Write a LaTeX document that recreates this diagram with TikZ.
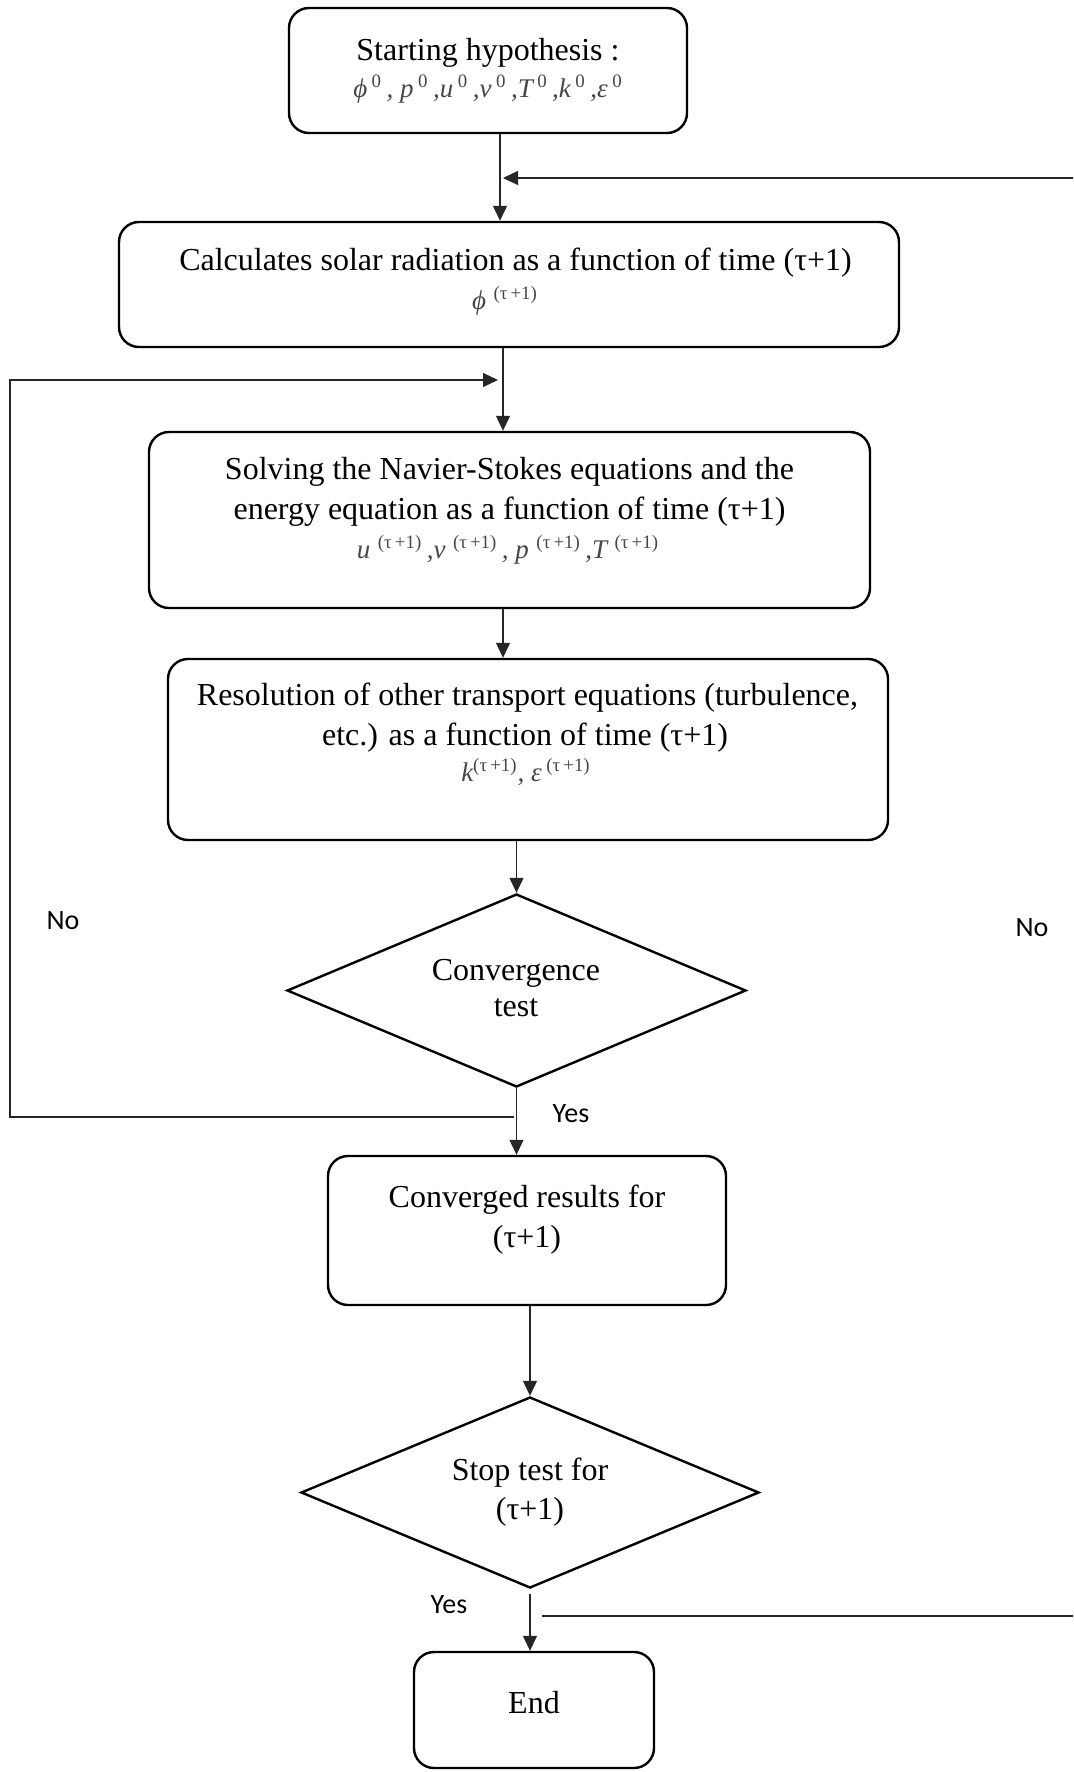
\documentclass[tikz,border=0pt]{standalone}
\usepackage{fontspec}
\setmainfont{Liberation Serif}
\newfontfamily\lblfont{Carlito}
\usetikzlibrary{arrows.meta,shapes.geometric}
\newcommand{\mysup}[1]{\textsuperscript{\upshape #1}}
\begin{document}
\begin{tikzpicture}[x=0.5pt,y=-0.5pt,
  box/.style={draw,line width=1.2pt,rounded corners=10pt,inner sep=0pt},
  dec/.style={draw,diamond,line width=1.2pt,inner sep=0pt},
  txt/.style={inner sep=0pt,font=\fontsize{16}{19}\selectfont},
  mth/.style={inner sep=0pt,text=black!72,font=\fontsize{13.5}{16}\selectfont\itshape},
  lbl/.style={inner sep=0pt,font=\lblfont\fontsize{14}{17}\selectfont},
  conn/.style={line width=0.6pt,draw=black!85},
  arr/.style={conn,-{Triangle[length=7.5pt,width=7pt]}}]
\useasboundingbox (0,0) rectangle (1073,1772);
\clip (0,0) rectangle (1073,1772);

% boxes
\node[box,minimum width=199pt,minimum height=62.5pt] (start) at (488,70.5) {};
\node[box,minimum width=390pt,minimum height=62.5pt] (calc) at (509,284.5) {};
\node[box,minimum width=360.5pt,minimum height=88pt] (ns) at (509.5,520) {};
\node[box,minimum width=360pt,minimum height=90.5pt] (res) at (528,749.5) {};
\node[dec,minimum width=229.5pt,minimum height=96.5pt] (conv) at (516.5,990.5) {};
\node[box,minimum width=199pt,minimum height=74.5pt] (converged) at (527,1230.5) {};
\node[dec,minimum width=229pt,minimum height=95.5pt] (stop) at (530,1492.5) {};
\node[box,minimum width=120pt,minimum height=58pt] (end) at (534,1710) {};

% texts
\node[txt] (t1a) at (488,53) {Starting hypothesis :};
\node[mth] (t1b) at (488,89) {ϕ\,\mysup{0}\,, p\,\mysup{0}\,,u\,\mysup{0}\,,v\,\mysup{0}\,,T\,\mysup{0}\,,k\,\mysup{0}\,,ε\,\mysup{0}};
\node[txt] (t2a) at (515.5,263) {Calculates solar radiation as a function of time (τ+1)};
\node[mth] (t2b) at (505,301) {ϕ\;\mysup{(τ\,+1)}};
\node[txt] (t3a) at (509.5,472) {Solving the Navier-Stokes equations and the};
\node[txt] (t3b) at (509.5,512) {energy equation as a function of time (τ+1)};
\node[mth] (t3c) at (508,550) {u\;\mysup{(τ\,+1)}\,,v\;\mysup{(τ\,+1)}\,, p\;\mysup{(τ\,+1)}\,,T\;\mysup{(τ\,+1)}};
\node[txt] (t4a) at (527.5,698) {Resolution of other transport equations (turbulence,};
\node[txt] (t4b) at (525,738) {etc.) as a function of time (τ+1)};
\node[mth] (t4c) at (526,772) {k\mysup{(τ\,+1)}, ε\,\mysup{(τ\,+1)}};
\node[txt] (t5a) at (516,973) {Convergence};
\node[txt] (t5b) at (516,1008) {test};
\node[txt] (t6a) at (527,1200) {Converged results for};
\node[txt] (t6b) at (527,1240) {(τ+1)};
\node[txt] (t7a) at (530,1473) {Stop test for};
\node[txt] (t7b) at (530,1512) {(τ+1)};
\node[txt] (t8) at (534,1703) {End};

% labels
\node[lbl] (no1) at (63,921) {No};
\node[lbl] (no2) at (1032,928) {No};
\node[lbl] (yes1) at (571,1114) {Yes};
\node[lbl] (yes2) at (449,1605) {Yes};

% columns / loop points
\coordinate (c1) at (500,0);
\coordinate (c2) at (503,0);
\coordinate (rs) at (542,1616);
\coordinate (rb) at (1090,1616);
\coordinate (rt) at (1090,178);
\coordinate (re) at (503,178);
\coordinate (ls) at (514,1117);
\coordinate (lb) at (10,1117);
\coordinate (lt) at (10,380);
\coordinate (le) at (498,380);

% main flow
\draw[arr] (start.south -| c1) -- (calc.north -| c1);
\draw[arr] (calc.south -| c2) -- (ns.north -| c2);
\draw[arr] (ns.south -| c2) -- (res.north -| c2);
\draw[arr] (res.south -| conv.north) -- (conv.north);
\draw[arr] (conv.south) -- (converged.north -| conv.south);
\draw[arr] (converged.south -| stop.north) -- (stop.north);
\draw[arr] ([yshift=-2.5pt]stop.south) -- (end.north -| stop.south);

% feedback loops
\draw[arr] (rs) -- (rb) -- (rt) -- (re);
\draw[arr] (ls) -- (lb) -- (lt) -- (le);
\end{tikzpicture}
\end{document}
